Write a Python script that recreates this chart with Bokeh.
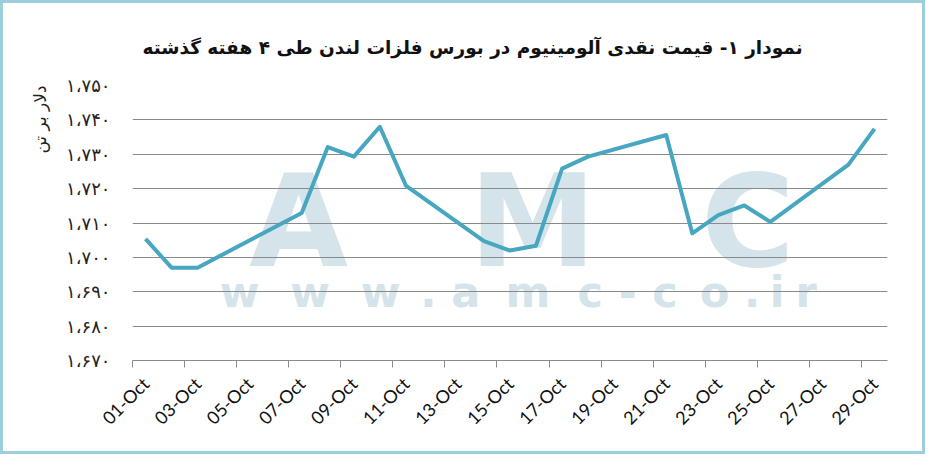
import math
from bokeh.plotting import figure
from bokeh.models import Range1d, FixedTicker, Title, ColumnDataSource
from bokeh.core.properties import value
from bokeh.embed import file_html
from bokeh.resources import INLINE

# ---------------- data ----------------
title_text = "نمودار ۱- قیمت نقدی آلومینیوم در بورس فلزات لندن طی ۴ هفته گذشته"
y_label_text = "دلار بر تن"

day = [1, 2, 3, 7, 8, 9, 10, 11, 14, 15, 16, 17, 18, 21, 22, 23, 24, 25, 28, 29]
price = [1705.4, 1697.0, 1697.0, 1712.9, 1732.1, 1729.3, 1738.0, 1720.9,
         1704.7, 1702.0, 1703.4, 1725.8, 1729.3, 1735.6, 1707.0, 1712.3,
         1715.1, 1710.3, 1727.0, 1737.4]

x_tick_days = [1, 3, 5, 7, 9, 11, 13, 15, 17, 19, 21, 23, 25, 27, 29]
x_tick_labels = ["01-Oct", "03-Oct", "05-Oct", "07-Oct", "09-Oct", "11-Oct",
                 "13-Oct", "15-Oct", "17-Oct", "19-Oct", "21-Oct", "23-Oct",
                 "25-Oct", "27-Oct", "29-Oct"]
y_ticks = [1670, 1680, 1690, 1700, 1710, 1720, 1730, 1740, 1750]
y_tick_labels = ["۱،۶۷۰", "۱،۶۸۰", "۱،۶۹۰", "۱،۷۰۰", "۱،۷۱۰", "۱،۷۲۰",
                 "۱،۷۳۰", "۱،۷۴۰", "۱،۷۵۰"]

watermark_big = ["A", "M", "C"]
watermark_small = list("www.amc-co.ir")

# ---------------- layout helpers ----------------
X0, X1 = 0.5, 29.5
Y0, Y1 = 1670, 1750
FL, FR, FT, FB = 134, 902, 88, 373  # frame edges in reference pixels
SX, SY = 931 / 947, 460 / 476       # reference -> figure scale
BW = 3                                # css border width


def px_x(px):
    return X0 + (px - FL) * (X1 - X0) / (FR - FL)


def px_y(py):
    return Y1 - (py - FT) * (Y1 - Y0) / (FB - FT)


def cx(px):
    return px * SX - BW


def cy(py):
    return py * SY - BW


W, H = 925, 454
left = round(cx(FL))
right = W - round(cx(FR))
top = round(cy(FT))
bottom = H - round(cy(FB))

p = figure(width=W, height=H,
           x_range=Range1d(X0, X1), y_range=Range1d(Y0, Y1),
           output_backend="svg", toolbar_location=None,
           min_border_left=left, min_border_right=right,
           min_border_top=top, min_border_bottom=bottom)
p.styles = {"border": "3px solid #9ccfdb"}
p.outline_line_color = None
p.background_fill_color = "white"
p.border_fill_color = "white"

# ---------------- watermark ----------------
wm_color = "#d5e4ea"
big_fs, small_fs = 128, 43
big_centers = [303, 541, 760]
# baseline shift compensation (observed rendering offset)
big_y = 275 - 0.346 * big_fs / SY
small_y = 317 - 0.346 * small_fs / SY
wm1 = ColumnDataSource(dict(x=[px_x(c) for c in big_centers],
                            y=[px_y(big_y)] * 3, t=watermark_big))
r1 = p.text(x="x", y="y", text="t", source=wm1, text_font=value("DejaVu Sans"),
            text_font_style="bold", text_font_size=f"{big_fs}px",
            text_color=wm_color, text_align="center", text_baseline="alphabetic")
r1.level = "image"

em = {"w": 0.944, ".": 0.333, "a": 0.667, "m": 1.0, "c": 0.667, "-": 0.333,
      "o": 0.667, "i": 0.333, "r": 0.444}
total = sum(em[ch] for ch in watermark_small)
start, end = 207, 836
scale = (end - start) / total
centers, acc = [], 0.0
for ch in watermark_small:
    centers.append(start + scale * (acc + em[ch] / 2))
    acc += em[ch]
wm2 = ColumnDataSource(dict(x=[px_x(c) for c in centers],
                            y=[px_y(small_y)] * len(centers), t=watermark_small))
r2 = p.text(x="x", y="y", text="t", source=wm2, text_font=value("DejaVu Sans"),
            text_font_style="bold", text_font_size=f"{small_fs}px",
            text_color=wm_color, text_align="center", text_baseline="alphabetic")
r2.level = "image"

# ---------------- data line ----------------
src = ColumnDataSource(dict(day=day, price=price))
p.line(x="day", y="price", source=src, line_color="#47a6c0", line_width=4,
       line_join="round")

# ---------------- axes ----------------
p.xaxis.ticker = FixedTicker(ticks=x_tick_days,
                             minor_ticks=[d - 0.5 for d in x_tick_days])
p.xaxis.major_label_overrides = {d: l for d, l in zip(x_tick_days, x_tick_labels)}
p.xaxis.major_label_orientation = math.pi / 4
p.xaxis.major_tick_in = 0
p.xaxis.major_tick_out = 0
p.xaxis.minor_tick_in = 0
p.xaxis.minor_tick_out = 7
p.xaxis.minor_tick_line_color = "#8a8a8a"
p.xaxis.axis_line_color = "#8a8a8a"
p.xaxis.major_label_standoff = 13
p.xaxis.major_label_text_font = "Lato"
p.xaxis.major_label_text_font_size = "18px"
p.xaxis.major_label_text_color = "#111111"

p.yaxis.ticker = FixedTicker(ticks=y_ticks)
p.yaxis.major_label_overrides = {v: l for v, l in zip(y_ticks, y_tick_labels)}
p.yaxis.axis_line_color = None
p.yaxis.major_tick_line_color = None
p.yaxis.minor_tick_line_color = None
p.yaxis.major_tick_in = 0
p.yaxis.major_tick_out = 0
p.yaxis.major_label_standoff = 22
p.yaxis.major_label_text_font = "DejaVu Sans"
p.yaxis.major_label_text_font_size = "18px"
p.yaxis.major_label_text_color = "#222222"

p.xgrid.visible = False
p.ygrid.ticker = FixedTicker(ticks=y_ticks)
p.ygrid.grid_line_color = "#8a8a8a"
p.ygrid.grid_line_width = 1

# ---------------- texts ----------------
p.title.text = title_text
p.title.align = "left"
p.title.offset = 10
p.title.standoff = 56
p.title.text_font = "DejaVu Sans"
p.title.text_font_style = "bold"
p.title.text_font_size = "18.5px"
p.title.text_color = "#111111"

ylab = Title(text=y_label_text, align="right", standoff=27,
             text_font="DejaVu Sans", text_font_style="normal",
             text_font_size="17px", text_color="#222222")
p.add_layout(ylab, "left")

open("out.html", "w").write(file_html(p, INLINE))
